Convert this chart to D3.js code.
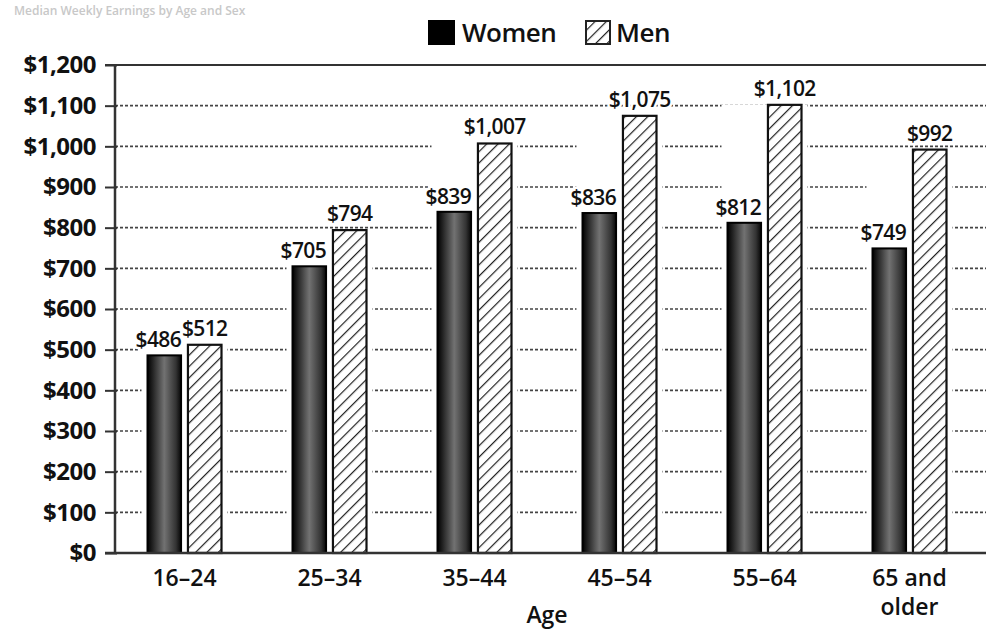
<!DOCTYPE html>
<html>
<head>
<meta charset="utf-8">
<script src="https://cdn.jsdelivr.net/npm/d3@7"></script>
<style>
  body { margin: 0; background: #fff; }
  svg { display: block; font-family: "Open Sans", "Noto Sans", sans-serif; }
</style>
</head>
<body>
<div id="chart"></div>
<script>
// data
const categories = ["16–24", "25–34", "35–44", "45–54", "55–64", "65 and older"];
const series = ["Women", "Men"];
const women = [486, 705, 839, 836, 812, 749];
const men = [512, 794, 1007, 1075, 1102, 992];
const yTicks = [0, 100, 200, 300, 400, 500, 600, 700, 800, 900, 1000, 1100, 1200];

const width = 986, height = 630;
const svg = d3.select("#chart").append("svg")
    .attr("width", width)
    .attr("height", height);

const defs = svg.append("defs");

// dark cylinder shading for women bars
const grad = defs.append("linearGradient")
    .attr("id", "womenGrad")
    .attr("x1", "0%").attr("x2", "100%").attr("y1", "0%").attr("y2", "0%");
[[0, "#000"], [0.15, "#222"], [0.5, "#727272"], [0.85, "#333"], [1, "#050505"]]
    .forEach(([o, c]) => grad.append("stop").attr("offset", o).attr("stop-color", c));

// hatch for men bars
const hatch = defs.append("pattern")
    .attr("id", "hatch")
    .attr("patternUnits", "userSpaceOnUse")
    .attr("width", 8).attr("height", 8)
    .attr("patternTransform", "rotate(45)");
hatch.append("rect").attr("width", 8).attr("height", 8).attr("fill", "#fff");
hatch.append("line")
    .attr("x1", 0).attr("y1", 0).attr("x2", 0).attr("y2", 8)
    .attr("stroke", "#222").attr("stroke-width", 2.4);

// faint title at the top edge
svg.append("text")
    .attr("x", 14).attr("y", 15)
    .attr("font-size", 12).attr("font-weight", 600)
    .attr("fill", "#c8c8c8")
    .text("Median Weekly Earnings by Age and Sex");

// scales
const x0 = d3.scaleBand()
    .domain(categories)
    .range([112, 982])
    .padding(0);

const x1 = d3.scaleBand()
    .domain(series)
    .range([0, 74])
    .paddingInner(0.17);

const y = d3.scaleLinear()
    .domain([0, 1200])
    .range([553, 65]);

const axisX = 115;
const tickFmt = d => "$" + d3.format(",")(d);

// dotted gridlines
svg.append("g")
    .selectAll("line")
    .data(yTicks.filter(t => t > 0 && t < 1200))
    .enter()
    .append("line")
    .attr("x1", axisX).attr("x2", width)
    .attr("y1", d => y(d)).attr("y2", d => y(d))
    .attr("stroke", "#444")
    .attr("stroke-width", 1.6)
    .attr("stroke-dasharray", "3,2");

// solid top line
svg.append("line")
    .attr("x1", axisX - 10).attr("x2", width)
    .attr("y1", y(1200)).attr("y2", y(1200))
    .attr("stroke", "#333").attr("stroke-width", 2);

// y axis
const yAxis = svg.append("g")
    .attr("transform", `translate(${axisX},0)`)
    .call(d3.axisLeft(y).tickValues(yTicks).tickSize(10).tickFormat(tickFmt));
yAxis.select(".domain").remove();
yAxis.selectAll(".tick line")
    .attr("x2", -10).attr("x1", 2)
    .attr("stroke", "#333").attr("stroke-width", 2);
yAxis.selectAll(".tick text")
    .attr("x", -19)
    .attr("font-size", 24).attr("font-weight", 700)
    .attr("fill", "#111")
    .attr("letter-spacing", -0.5)
    .attr("font-family", "\"Open Sans\", sans-serif");

svg.append("line")
    .attr("x1", axisX).attr("x2", axisX)
    .attr("y1", y(1200)).attr("y2", y(0))
    .attr("stroke", "#333").attr("stroke-width", 2.5);

// bars
const groups = svg.append("g")
    .selectAll("g")
    .data(categories)
    .enter()
    .append("g")
    .attr("transform", c => `translate(${x0(c) + (x0.bandwidth() - 74) / 2},0)`);

// white gap around each bar pair
groups.append("rect")
    .attr("x", -6)
    .attr("y", (c, i) => y(Math.max(women[i], men[i])))
    .attr("width", 74 + 12)
    .attr("height", (c, i) => y(0) - y(Math.max(women[i], men[i])))
    .attr("fill", "#fff");

groups.append("rect")
    .attr("x", x1("Women"))
    .attr("y", (c, i) => y(women[i]))
    .attr("width", x1.bandwidth())
    .attr("height", (c, i) => y(0) - y(women[i]))
    .attr("fill", "url(#womenGrad)")
    .attr("stroke", "#000").attr("stroke-width", 2);

groups.append("rect")
    .attr("x", x1("Men"))
    .attr("y", (c, i) => y(men[i]))
    .attr("width", x1.bandwidth())
    .attr("height", (c, i) => y(0) - y(men[i]))
    .attr("fill", "url(#hatch)")
    .attr("stroke", "#111").attr("stroke-width", 2.2);

// value labels
const labelStyle = sel => sel
    .attr("text-anchor", "middle")
    .attr("font-size", 21).attr("font-weight", 600)
    .attr("fill", "#111")
    .attr("letter-spacing", -0.6)
    .attr("stroke", "#fff").attr("stroke-width", 5)
    .attr("paint-order", "stroke");

groups.append("text")
    .attr("x", x1("Women") + x1.bandwidth() / 2 - 6)
    .attr("y", (c, i) => y(women[i]) - 8)
    .call(labelStyle)
    .text((c, i) => tickFmt(women[i]));

groups.append("text")
    .attr("x", x1("Men") + x1.bandwidth() / 2)
    .attr("y", (c, i) => y(men[i]) - 9)
    .call(labelStyle)
    .text((c, i) => tickFmt(men[i]));

// baseline
svg.append("line")
    .attr("x1", axisX - 10).attr("x2", width)
    .attr("y1", y(0)).attr("y2", y(0))
    .attr("stroke", "#333").attr("stroke-width", 2.5);

// x axis labels, the last one wrapped onto two lines
const xLines = categories.flatMap(c => (c === "65 and older" ? ["65 and", "older"] : [c])
    .map((w, k) => ({ c, w, k })));
svg.append("g")
    .selectAll("text")
    .data(xLines)
    .enter()
    .append("text")
    .attr("x", d => x0(d.c) + x0.bandwidth() / 2)
    .attr("y", d => 586 + d.k * 29)
    .attr("text-anchor", "middle")
    .attr("font-size", 23).attr("font-weight", 600)
    .attr("fill", "#111")
    .text(d => d.w);

svg.append("text")
    .attr("x", x0(categories[2]) + x0.bandwidth())
    .attr("y", 623)
    .attr("text-anchor", "middle")
    .attr("font-size", 23).attr("font-weight", 600)
    .attr("fill", "#111")
    .text("Age");

// legend
const legend = svg.append("g").attr("transform", "translate(428,18)");
legend.append("rect")
    .attr("x", 0).attr("y", 2).attr("width", 27).attr("height", 25)
    .attr("fill", "#000");
legend.append("text")
    .attr("x", 34).attr("y", 24)
    .attr("font-size", 26).attr("font-weight", 600).attr("fill", "#111")
    .attr("letter-spacing", -0.5)
    .text("Women");
legend.append("rect")
    .attr("x", 158).attr("y", 3).attr("width", 24).attr("height", 23)
    .attr("fill", "url(#hatch)")
    .attr("stroke", "#222").attr("stroke-width", 2);
legend.append("text")
    .attr("x", 188).attr("y", 24)
    .attr("font-size", 26).attr("font-weight", 600).attr("fill", "#111")
    .attr("letter-spacing", -0.5)
    .text("Men");
</script>
</body>
</html>
